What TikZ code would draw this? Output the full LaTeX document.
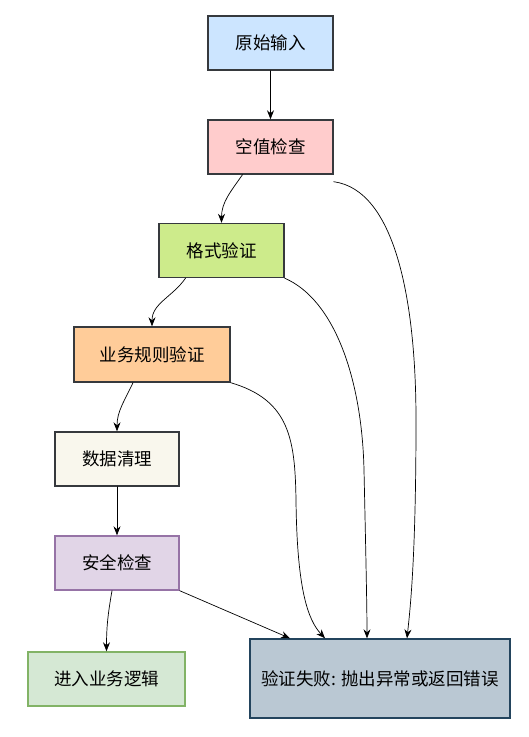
\documentclass[tikz,border=0pt]{standalone}
\usepackage{fontspec}
\usepackage{tikz}
\usetikzlibrary{arrows.meta}
\usepackage{xcolor}
\newfontfamily\cjk{Noto Sans CJK SC}
\definecolor{boxline}{HTML}{36393D}
\definecolor{inputfill}{HTML}{CCE5FF}
\definecolor{nullfill}{HTML}{FFCCCC}
\definecolor{formatfill}{HTML}{CDEB8B}
\definecolor{rulefill}{HTML}{FFCC99}
\definecolor{cleanfill}{HTML}{F9F7ED}
\definecolor{safefill}{HTML}{E1D5E7}
\definecolor{safeline}{HTML}{9673A6}
\definecolor{okfill}{HTML}{D5E8D4}
\definecolor{okline}{HTML}{82B366}
\definecolor{failfill}{HTML}{BAC8D3}
\definecolor{failline}{HTML}{23445D}

\begin{document}
\begin{tikzpicture}[x=1pt,y=-1pt,>={Stealth[length=9pt,width=7pt]},
  font=\cjk\fontsize{17.5}{20}\selectfont,line cap=round,
  stage/.style={draw=boxline,line width=1.4pt,minimum width=125pt,minimum height=54pt,inner sep=0pt},
  flow/.style={->,black,line width=0.7pt}]
\useasboundingbox (0,0) rectangle (528,737);
% stages
\node[stage,fill=inputfill] (input) at (270.5,43) {原始输入};
\node[stage,fill=nullfill] (nullchk) at (270.5,147) {空值检查};
\node[stage,fill=formatfill] (format) at (221.5,250.5) {格式验证};
\node[stage,fill=rulefill,minimum width=156pt,minimum height=55pt] (rule) at (152,354.5) {业务规则验证};
\node[stage,fill=cleanfill,minimum width=124pt] (clean) at (117,459) {数据清理};
\node[stage,fill=safefill,draw=safeline,minimum width=124pt] (safe) at (117,563) {安全检查};
\node[stage,fill=okfill,draw=okline,minimum width=157pt] (ok) at (106.5,679) {进入业务逻辑};
\node[stage,fill=failfill,draw=failline,minimum width=260pt,minimum height=79pt] (fail) at (380,678.5) {验证失败: 抛出异常或返回错误};
% main path
\draw[flow] (input) -- (nullchk);
\draw[flow] ([xshift=-28pt]nullchk.south) to[out=235,in=90] (format.north);
\draw[flow] ([xshift=-36pt]format.south) to[out=235,in=90] (rule.north);
\draw[flow] ([xshift=-19pt]rule.south) to[out=245,in=90] (clean.north);
\draw[flow] (clean) -- (safe);
\draw[flow] ([xshift=-5pt]safe.south) to[out=260,in=90] (ok.north);
% failures
\draw[flow] (safe.south east) -- ([xshift=-90pt]fail.north);
\draw[flow] (rule.south east) .. controls (290,400) and (295,440) .. (296,500)
  .. controls (297,590) and (308,620) .. ([xshift=-55pt]fail.north);
\draw[flow] (format.south east) .. controls (335,300) and (362,380) .. (364,470)
  .. controls (366,560) and (367,610) .. ([xshift=-13pt]fail.north);
\draw[flow] ([yshift=-7pt]nullchk.south east) .. controls (395,190) and (416,300) .. (416,420)
  .. controls (416,560) and (410,610) .. ([xshift=27pt]fail.north);
\end{tikzpicture}
\end{document}
